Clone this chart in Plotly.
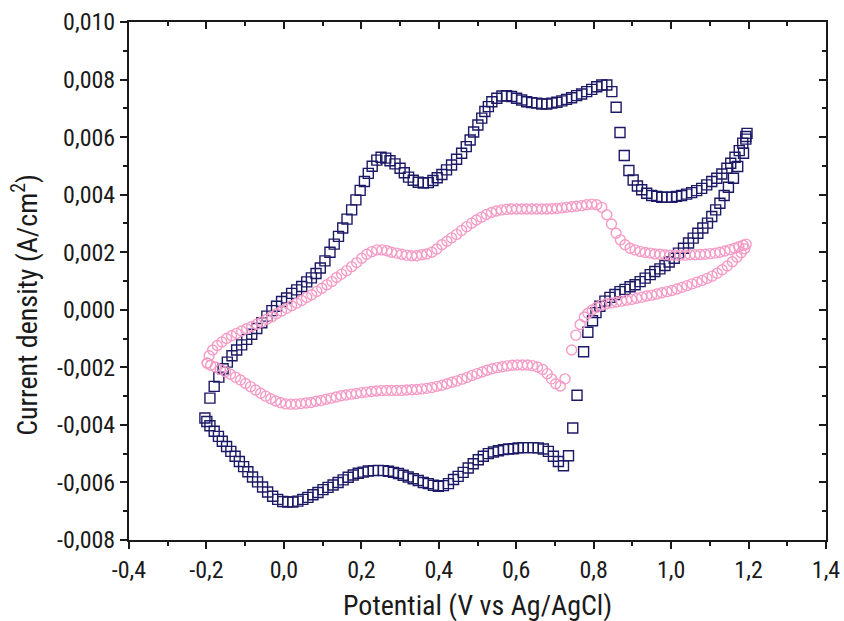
import plotly.graph_objects as go

# ---------------- data ----------------
# Square series: anodic sweep (-0.2 -> 1.2 V)
sq_up_v = [-0.191,-0.180,-0.168,-0.157,-0.146,-0.134,-0.122,-0.109,-0.096,-0.083,-0.070,-0.057,-0.044,-0.031,-0.019,-0.006,
           0.007,0.020,0.033,0.046,0.059,0.071,0.083,0.094,0.106,0.119,0.130,0.141,0.152,0.163,0.175,0.186,0.197,0.208,0.218,
           0.228,0.240,0.251,0.263,0.274,0.287,0.300,0.311,0.322,0.334,0.347,0.360,0.373,0.385,0.396,0.408,0.420,0.433,0.446,
           0.459,0.471,0.481,0.490,0.501,0.511,0.519,0.528,0.537,0.550,0.563,0.575,0.588,0.601,0.614,0.627,0.640,0.653,0.666,
           0.679,0.692,0.705,0.718,0.730,0.743,0.756,0.769,0.782,0.795,0.808,0.821,0.834,0.847,0.858,0.868,0.879,0.891,0.902,
           0.913,0.924,0.937,0.950,0.963,0.976,0.989,1.002,1.014,1.027,1.040,1.053,1.066,1.079,1.092,1.105,1.118,1.131,1.144,
           1.154,1.165,1.176,1.185,1.193,1.196]
sq_up_j = [-0.00307,-0.00266,-0.00234,-0.00205,-0.00182,-0.00160,-0.00140,-0.00122,-0.00103,-0.00085,-0.00065,-0.00045,-0.00022,-0.00003,0.00012,0.00029,
           0.00041,0.00057,0.00069,0.00081,0.00097,0.00111,0.00126,0.00145,0.00170,0.00200,0.00228,0.00255,0.00284,0.00315,0.00347,0.00382,0.00415,0.00446,0.00474,
           0.00499,0.00520,0.00530,0.00527,0.00518,0.00507,0.00492,0.00476,0.00461,0.00450,0.00443,0.00440,0.00442,0.00449,0.00459,0.00470,0.00486,0.00503,0.00523,
           0.00544,0.00567,0.00590,0.00618,0.00642,0.00666,0.00689,0.00706,0.00723,0.00735,0.00743,0.00744,0.00741,0.00735,0.00729,0.00723,0.00720,0.00718,0.00715,
           0.00715,0.00718,0.00721,0.00726,0.00731,0.00737,0.00744,0.00750,0.00758,0.00766,0.00775,0.00781,0.00781,0.00758,0.00704,0.00616,0.00536,0.00484,0.00451,
           0.00430,0.00417,0.00405,0.00397,0.00394,0.00391,0.00391,0.00391,0.00394,0.00397,0.00402,0.00407,0.00414,0.00422,0.00434,0.00446,0.00457,0.00472,0.00492,
           0.00509,0.00530,0.00553,0.00579,0.00602,0.00613]

# Square series: return sweep (1.2 -> 0.72 V)
sq_back_v = [1.193,1.187,1.172,1.161,1.148,1.137,1.126,1.115,1.105,1.094,1.082,1.069,1.057,1.045,1.032,1.019,1.008,0.995,
             0.984,0.971,0.958,0.946,0.933,0.920,0.907,0.894,0.881,0.868,0.855,0.842,0.829,0.816,0.806,0.797,0.785,0.774,
             0.757,0.746,0.735,0.722]
sq_back_j = [0.00593,0.00544,0.00498,0.00457,0.00426,0.00397,0.00370,0.00347,0.00324,0.00301,0.00284,0.00266,0.00249,0.00232,0.00214,0.00197,0.00179,0.00166,
             0.00154,0.00142,0.00133,0.00122,0.00110,0.00098,0.00087,0.00080,0.00071,0.00063,0.00053,0.00043,0.00030,0.00012,-0.00010,-0.00038,-0.00078,-0.00146,
             -0.00297,-0.00411,-0.00507,-0.00542]

# Square series: cathodic sweep (0.71 -> -0.2 V)
sq_down_v = [0.709,0.696,0.683,0.670,0.657,0.644,0.631,0.618,0.605,0.593,0.580,0.567,0.554,0.541,0.528,0.515,0.502,0.489,
             0.476,0.463,0.450,0.438,0.425,0.412,0.399,0.386,0.373,0.360,0.347,0.334,0.321,0.308,0.296,0.283,0.270,0.257,
             0.244,0.231,0.218,0.205,0.192,0.179,0.166,0.153,0.140,0.127,0.114,0.101,0.088,0.075,0.062,0.049,0.036,0.023,
             0.010,-0.003,-0.016,-0.029,-0.042,-0.055,-0.068,-0.081,-0.093,-0.104,-0.115,-0.126,-0.137,-0.148,-0.159,-0.169,
             -0.180,-0.191,-0.199,-0.204]
sq_down_j = [-0.00527,-0.00509,-0.00492,-0.00484,-0.00480,-0.00479,-0.00479,-0.00479,-0.00480,-0.00483,-0.00484,-0.00486,-0.00490,-0.00494,-0.00500,-0.00509,-0.00521,-0.00535,
             -0.00550,-0.00565,-0.00579,-0.00590,-0.00604,-0.00611,-0.00613,-0.00610,-0.00604,-0.00600,-0.00593,-0.00587,-0.00581,-0.00575,-0.00569,-0.00565,-0.00561,-0.00559,
             -0.00558,-0.00559,-0.00560,-0.00564,-0.00568,-0.00574,-0.00582,-0.00591,-0.00600,-0.00609,-0.00617,-0.00625,-0.00635,-0.00643,-0.00652,-0.00659,-0.00665,-0.00668,
             -0.00668,-0.00666,-0.00659,-0.00648,-0.00633,-0.00616,-0.00598,-0.00581,-0.00563,-0.00545,-0.00527,-0.00509,-0.00492,-0.00475,-0.00457,-0.00440,
             -0.00422,-0.00403,-0.00388,-0.00376]

# Circle series: anodic sweep (-0.2 -> 1.2 V)
ci_up_v = [-0.198,-0.193,-0.184,-0.172,-0.160,-0.148,-0.135,-0.122,-0.109,-0.096,-0.083,-0.070,-0.057,-0.044,-0.031,-0.019,-0.006,
           0.007,0.020,0.033,0.046,0.059,0.072,0.085,0.098,0.111,0.124,0.136,0.149,0.162,0.175,0.188,0.201,0.214,0.227,0.240,
           0.253,0.266,0.278,0.291,0.304,0.317,0.330,0.343,0.356,0.369,0.382,0.395,0.408,0.421,0.433,0.446,0.459,0.472,0.485,
           0.497,0.510,0.523,0.536,0.549,0.562,0.575,0.588,0.601,0.614,0.627,0.640,0.653,0.666,0.679,0.692,0.705,0.718,0.730,
           0.743,0.756,0.769,0.782,0.795,0.808,0.821,0.834,0.846,0.858,0.869,0.881,0.894,0.907,0.920,0.933,0.946,0.958,0.971,
           0.984,0.997,1.010,1.023,1.036,1.049,1.062,1.075,1.088,1.101,1.114,1.126,1.139,1.152,1.164,1.175,1.186,1.194]
ci_up_j = [-0.00185,-0.00160,-0.00140,-0.00124,-0.00112,-0.00100,-0.00090,-0.00082,-0.00074,-0.00066,-0.00058,-0.00050,-0.00042,-0.00033,-0.00024,-0.00014,-0.00004,
           0.00005,0.00014,0.00023,0.00032,0.00043,0.00052,0.00064,0.00075,0.00087,0.00098,0.00112,0.00124,0.00136,0.00150,0.00164,0.00179,0.00193,0.00202,0.00208,
           0.00208,0.00205,0.00200,0.00197,0.00193,0.00190,0.00188,0.00188,0.00191,0.00194,0.00200,0.00211,0.00226,0.00238,0.00250,0.00262,0.00276,0.00289,0.00301,
           0.00312,0.00322,0.00331,0.00338,0.00343,0.00347,0.00349,0.00350,0.00350,0.00350,0.00350,0.00350,0.00350,0.00350,0.00350,0.00351,0.00352,0.00354,0.00356,
           0.00358,0.00360,0.00362,0.00365,0.00367,0.00365,0.00356,0.00330,0.00298,0.00266,0.00243,0.00226,0.00214,0.00208,0.00203,0.00199,0.00197,0.00194,0.00193,
           0.00191,0.00190,0.00190,0.00190,0.00190,0.00191,0.00191,0.00192,0.00193,0.00195,0.00197,0.00200,0.00204,0.00209,0.00214,0.00219,0.00224,0.00228]

# Circle series: return + cathodic sweep (1.2 -> -0.2 V)
ci_down_v = [1.190,1.181,1.170,1.158,1.145,1.132,1.119,1.106,1.093,1.080,1.067,1.054,1.041,1.028,1.015,1.002,0.989,0.976,
             0.963,0.950,0.937,0.924,0.911,0.898,0.885,0.872,0.859,0.846,0.833,0.820,0.808,0.796,0.785,0.776,0.765,0.754,
             0.743,0.726,0.714,0.702,0.691,0.680,0.668,0.655,0.642,0.629,0.616,0.603,0.590,0.577,0.564,0.551,0.538,0.525,
             0.512,0.499,0.486,0.473,0.460,0.447,0.434,0.421,0.408,0.395,0.382,0.369,0.356,0.343,0.330,0.317,0.304,0.291,
             0.278,0.265,0.252,0.239,0.226,0.213,0.200,0.187,0.174,0.161,0.148,0.135,0.122,0.109,0.096,0.083,0.070,0.057,
             0.044,0.031,0.018,0.005,-0.008,-0.021,-0.034,-0.047,-0.060,-0.073,-0.086,-0.099,-0.112,-0.125,-0.138,-0.151,
             -0.164,-0.177,-0.189,-0.198]
ci_down_j = [0.00212,0.00198,0.00183,0.00167,0.00152,0.00139,0.00127,0.00117,0.00109,0.00102,0.00096,0.00090,0.00084,0.00078,0.00072,0.00067,0.00063,0.00059,
             0.00055,0.00051,0.00048,0.00044,0.00040,0.00036,0.00033,0.00030,0.00027,0.00024,0.00021,0.00016,0.00009,-0.00001,-0.00012,-0.00025,-0.00051,-0.00088,
             -0.00140,-0.00240,-0.00265,-0.00257,-0.00240,-0.00222,-0.00207,-0.00199,-0.00194,-0.00192,-0.00192,-0.00192,-0.00193,-0.00195,-0.00198,-0.00201,-0.00205,-0.00210,
             -0.00216,-0.00222,-0.00228,-0.00235,-0.00241,-0.00247,-0.00252,-0.00257,-0.00262,-0.00266,-0.00270,-0.00273,-0.00275,-0.00277,-0.00278,-0.00279,-0.00280,-0.00280,
             -0.00280,-0.00280,-0.00281,-0.00282,-0.00284,-0.00286,-0.00288,-0.00291,-0.00293,-0.00296,-0.00299,-0.00303,-0.00307,-0.00311,-0.00315,-0.00318,-0.00322,-0.00324,
             -0.00326,-0.00328,-0.00328,-0.00327,-0.00323,-0.00317,-0.00309,-0.00300,-0.00290,-0.00279,-0.00267,-0.00256,-0.00244,-0.00234,-0.00224,-0.00215,
             -0.00207,-0.00199,-0.00193,-0.00186]

x_tickvals = [-0.4, -0.2, 0.0, 0.2, 0.4, 0.6, 0.8, 1.0, 1.2, 1.4]
x_ticktext = ["-0,4", "-0,2", "0,0", "0,2", "0,4", "0,6", "0,8", "1,0", "1,2", "1,4"]
y_tickvals = [-0.008, -0.006, -0.004, -0.002, 0.0, 0.002, 0.004, 0.006, 0.008, 0.010]
y_ticktext = ["-0,008", "-0,006", "-0,004", "-0,002", "0,000", "0,002", "0,004", "0,006", "0,008", "0,010"]

x_title = "Potential (V vs Ag/AgCl)"
y_title = "Current density (A/cm<sup>2</sup>)"

# ---------------- styling ----------------
NAVY = "#1c1966"
PINK = "#f59cc6"
INK = "#1a1a1a"
FONT = "Liberation Sans Narrow, Arial Narrow, Roboto Condensed, Liberation Sans, Arial, sans-serif"
X_RANGE = [-0.4, 1.4]
Y_RANGE = [-0.008, 0.010]

fig = go.Figure()
fig.add_trace(go.Scatter(
    x=sq_up_v + sq_back_v + sq_down_v, y=sq_up_j + sq_back_j + sq_down_j,
    mode="markers", showlegend=False,
    marker=dict(symbol="square-open", size=10, color=NAVY, line=dict(width=1.4, color=NAVY)),
))
fig.add_trace(go.Scatter(
    x=ci_up_v + ci_down_v, y=ci_up_j + ci_down_j,
    mode="markers", showlegend=False,
    marker=dict(symbol="circle-open", size=10, color=PINK, line=dict(width=1.4, color=PINK)),
))
# helper trace so the mirrored (inside-tick) top/right axes are drawn
fig.add_trace(go.Scatter(x=[None], y=[None], xaxis="x2", yaxis="y2", mode="markers",
                         showlegend=False, hoverinfo="skip"))

common = dict(showgrid=False, zeroline=False, linecolor=INK, ticklen=7, tickwidth=1.5,
              tickcolor=INK, tickmode="array", automargin=False)

fig.update_layout(
    width=844, height=621,
    margin=dict(l=129, r=18, t=22, b=81, autoexpand=False),
    paper_bgcolor="white", plot_bgcolor="white",
    font=dict(family=FONT, color=INK, size=24),
    xaxis=dict(range=X_RANGE, tickvals=x_tickvals, ticktext=x_ticktext, ticks="outside",
               showline=True, linewidth=2, mirror=True,
               tickfont=dict(size=24, family=FONT, color=INK),
               minor=dict(tickmode="linear", tick0=-0.4, dtick=0.1, ticks="outside", ticklen=4,
                          tickwidth=1.5, tickcolor=INK),
               **common),
    yaxis=dict(range=Y_RANGE, tickvals=y_tickvals, ticktext=y_ticktext, ticks="outside",
               showline=True, linewidth=2, mirror=True,
               tickfont=dict(size=24, family=FONT, color=INK),
               minor=dict(tickmode="linear", tick0=-0.008, dtick=0.001, ticks="outside", ticklen=4,
                          tickwidth=1.5, tickcolor=INK),
               **common),
    xaxis2=dict(range=X_RANGE, overlaying="x", side="top", tickvals=x_tickvals, ticks="inside",
                showticklabels=False, showline=False,
                minor=dict(tickmode="linear", tick0=-0.4, dtick=0.1, ticks="inside", ticklen=4,
                           tickwidth=1.5, tickcolor=INK),
                **common),
    yaxis2=dict(range=Y_RANGE, overlaying="y", side="right", tickvals=y_tickvals, ticks="inside",
                showticklabels=False, showline=False,
                minor=dict(tickmode="linear", tick0=-0.008, dtick=0.001, ticks="inside", ticklen=4,
                           tickwidth=1.5, tickcolor=INK),
                **common),
    annotations=[
        dict(text=x_title, xref="paper", yref="paper", x=0.5007, y=-0.1255,
             xanchor="center", yanchor="middle", showarrow=False,
             font=dict(size=28, family=FONT, color=INK)),
        dict(text=y_title, xref="paper", yref="paper", x=-0.148, y=0.4537, textangle=-90,
             xanchor="center", yanchor="middle", showarrow=False,
             font=dict(size=28, family=FONT, color=INK)),
    ],
)

fig.write_html("out.html", config={"displayModeBar": False},
               post_script="document.body.style.margin='0';")
